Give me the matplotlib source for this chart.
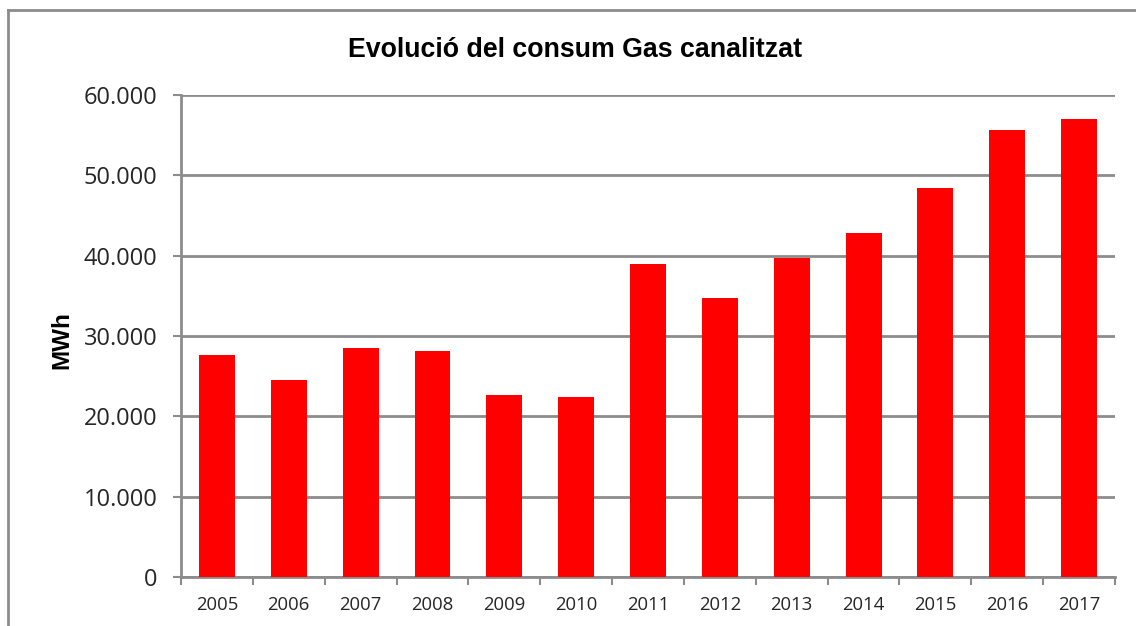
import matplotlib
matplotlib.use("Agg")
import matplotlib.pyplot as plt
from matplotlib.ticker import FuncFormatter, MultipleLocator, FixedLocator
from matplotlib.lines import Line2D

years = ["2005", "2006", "2007", "2008", "2009", "2010", "2011",
         "2012", "2013", "2014", "2015", "2016", "2017"]
consum_mwh = [27600, 24500, 28500, 28100, 22650, 22400, 38950,
              34700, 39750, 42800, 48400, 55700, 57000]

title = "Evolució del consum Gas canalitzat"
ylabel = "MWh"

W, H = 1136, 626
fig = plt.figure(figsize=(W / 100, H / 100), dpi=100)
fig.patch.set_facecolor("white")

ax = fig.add_axes([181 / W, 1 - 577 / H, (1115 - 181) / W, (577 - 95) / H])

x = list(range(len(years)))
ax.bar(x, consum_mwh, width=0.5, color="#ff0000", zorder=3)

ax.set_xlim(-0.5, len(years) - 0.5)
ax.set_ylim(0, 60000)
ax.yaxis.set_major_locator(MultipleLocator(10000))
ax.yaxis.set_major_formatter(FuncFormatter(lambda v, p: f"{int(v):,}".replace(",", ".")))
ax.grid(axis="y", color="#8c8c8c", linewidth=2, zorder=0)

ax.set_xticks(x)
ax.set_xticklabels(years)
ax.xaxis.set_minor_locator(FixedLocator([i - 0.5 for i in range(len(years) + 1)]))
ax.tick_params(axis="x", which="major", length=0, pad=14, labelsize=13.3, labelcolor="#262626")
ax.tick_params(axis="x", which="minor", length=6, width=1.5, color="#8c8c8c")
ax.tick_params(axis="y", which="major", length=6, width=1.5, color="#8c8c8c",
               pad=11, labelsize=17, labelcolor="#262626")
for lab in ax.get_xticklabels() + ax.get_yticklabels():
    lab.set_fontfamily("Open Sans")

for side in ["top", "right"]:
    ax.spines[side].set_visible(False)
for side in ["left", "bottom"]:
    ax.spines[side].set_color("#8c8c8c")
    ax.spines[side].set_linewidth(2)

fig.text(575.5 / W, 1 - 57 / H, title, ha="center", va="baseline",
         fontsize=19.3, fontweight="bold", family="Liberation Sans", color="black")
fig.text(62 / W, 1 - 340 / H, ylabel, ha="center", va="center", rotation=90,
         fontsize=17.5, fontweight="bold", family="Liberation Sans", color="black")

# outer chart border (top and left visible)
fig.add_artist(Line2D([8 / W, 8 / W], [1 - 10 / H, 0], transform=fig.transFigure,
                      color="#8c8c8c", linewidth=2))
fig.add_artist(Line2D([8 / W, 1], [1 - 10 / H, 1 - 10 / H], transform=fig.transFigure,
                      color="#8c8c8c", linewidth=2))

fig.savefig("out.png", dpi=100, facecolor="white")
